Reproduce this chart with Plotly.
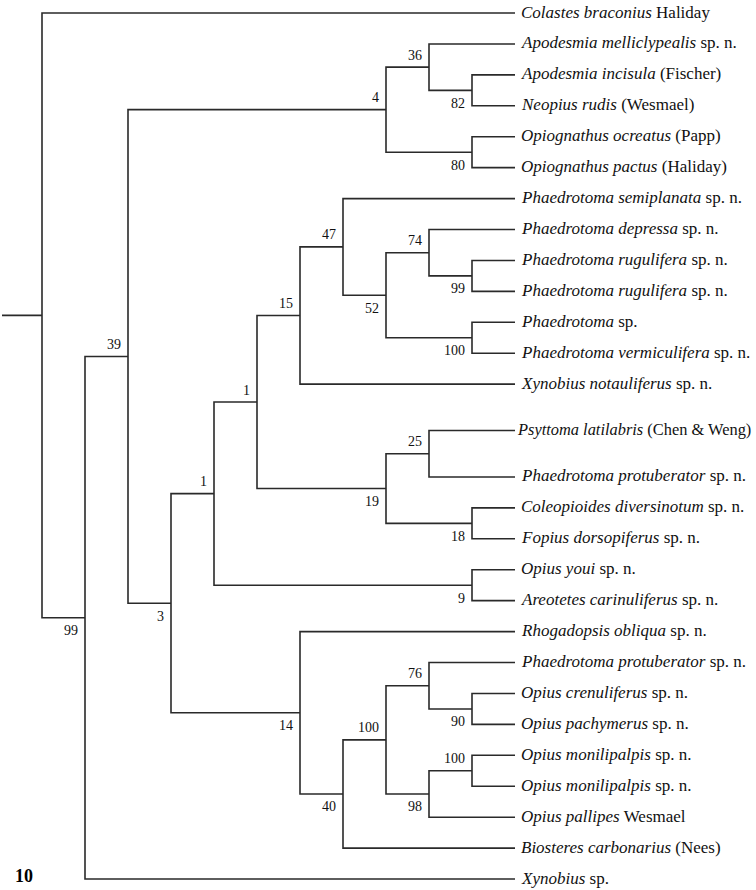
"""
Cladograma de Opiinae (fig. 10) - reconstrução com Plotly
"""
import plotly.graph_objects as go

# Terminais: parte em itálico (táxon) e parte em romano (autor / status)
taxon_names = [
    "Colastes braconius", "Apodesmia melliclypealis", "Apodesmia incisula",
    "Neopius rudis", "Opiognathus ocreatus", "Opiognathus pactus",
    "Phaedrotoma semiplanata", "Phaedrotoma depressa", "Phaedrotoma rugulifera",
    "Phaedrotoma rugulifera", "Phaedrotoma", "Phaedrotoma vermiculifera",
    "Xynobius notauliferus", "Psyttoma latilabris", "Phaedrotoma protuberator",
    "Coleopioides diversinotum", "Fopius dorsopiferus", "Opius youi",
    "Areotetes carinuliferus", "Rhogadopsis obliqua", "Phaedrotoma protuberator",
    "Opius crenuliferus", "Opius pachymerus", "Opius monilipalpis",
    "Opius monilipalpis", "Opius pallipes", "Biosteres carbonarius", "Xynobius",
]
taxon_authors = [
    "Haliday", "sp. n.", "(Fischer)", "(Wesmael)", "(Papp)", "(Haliday)",
    "sp. n.", "sp. n.", "sp. n.", "sp. n.", "sp.", "sp. n.",
    "sp. n.", "(Chen &amp; Weng)", "sp. n.", "sp. n.", "sp. n.", "sp. n.",
    "sp. n.", "sp. n.", "sp. n.", "sp. n.", "sp. n.", "sp. n.",
    "sp. n.", "Wesmael", "(Nees)", "sp.",
]
# linha (ordem vertical) de cada terminal
leaf_rows = [0, 1, 2, 3, 4, 5, 6, 7, 8, 9, 10, 11, 12, 13.5,
             15, 16, 17, 18, 19, 20, 21, 22, 23, 24, 25, 26, 27, 28]
tip_depth = 11

# Árvore: (suporte, profundidade, filhos); inteiros = índice do terminal
tree = ("", 0, [
    0,
    ("99", 1, [
        ("39", 2, [
            ("4", 8, [
                ("36", 9, [1, ("82", 10, [2, 3])]),
                ("80", 10, [4, 5]),
            ]),
            ("3", 3, [
                ("1", 4, [
                    ("1", 5, [
                        ("15", 6, [
                            ("47", 7, [
                                6,
                                ("52", 8, [
                                    ("74", 9, [7, ("99", 10, [8, 9])]),
                                    ("100", 10, [10, 11]),
                                ]),
                            ]),
                            12,
                        ]),
                        ("19", 8, [
                            ("25", 9, [13, 14]),
                            ("18", 10, [15, 16]),
                        ]),
                    ]),
                    ("9", 10, [17, 18]),
                ]),
                ("14", 6, [
                    19,
                    ("40", 7, [
                        ("100", 8, [
                            ("76", 9, [20, ("90", 10, [21, 22])]),
                            ("98", 9, [("100", 10, [23, 24]), 25]),
                        ]),
                        26,
                    ]),
                ]),
            ]),
        ]),
        27,
    ]),
])

LINE_COLOR = '#2a2a2a'
TEXT_COLOR = '#111111'
FONT = 'Liberation Serif, Times New Roman, serif'

line_x, line_y = [], []
support_labels = []


def layout_node(node):
    """Devolve (x, y) do nó e acumula segmentos e rótulos de suporte"""
    if isinstance(node, int):
        return tip_depth, leaf_rows[node]
    support, depth, children = node
    pos = [layout_node(c) for c in children]
    y_node = (pos[0][1] + pos[-1][1]) / 2
    # caminho contínuo: primeiro filho -> vertical -> último filho
    line_x.extend([pos[0][0], depth, depth, pos[-1][0], None])
    line_y.extend([pos[0][1], pos[0][1], pos[-1][1], pos[-1][1], None])
    for cx, cy in pos[1:-1]:
        line_x.extend([depth, cx, None])
        line_y.extend([cy, cy, None])
    # rótulos dos filhos internos: acima se for o de cima, abaixo se for o de baixo
    for i, c in enumerate(children):
        if isinstance(c, int) or not c[0]:
            continue
        above = (i == 0)
        support_labels.append((c[0], pos[i][0], pos[i][1], above))
    return depth, y_node


root_x, root_y = layout_node(tree)
# haste da raiz
line_x.extend([root_x - 0.93, root_x, None])
line_y.extend([root_y, root_y, None])

fig = go.Figure()
fig.add_trace(go.Scatter(
    x=line_x, y=line_y,
    mode='lines',
    line=dict(color=LINE_COLOR, width=1.6),
    hoverinfo='skip',
    showlegend=False
))

annotations = []
for name, author, row in zip(taxon_names, taxon_authors, leaf_rows):
    # rótulo mais longo fica um pouco mais compacto para caber na janela
    long_label = len(name) + len(author) > 32
    annotations.append(dict(
        x=tip_depth, y=row, xref='x', yref='y',
        text=f'<i>{name}</i> {author}',
        showarrow=False, xanchor='left', yanchor='middle',
        xshift=0 if long_label else 4, yshift=1,
        font=dict(family=FONT, size=16.4 if long_label else 17, color=TEXT_COLOR)
    ))

for text, x, y, above in support_labels:
    annotations.append(dict(
        x=x, y=y, xref='x', yref='y',
        text=text,
        showarrow=False, xanchor='right', yanchor='middle',
        xshift=-5, yshift=12 if above else -13,
        font=dict(family=FONT, size=14, color=TEXT_COLOR)
    ))

# número da figura
annotations.append(dict(
    x=13 / 756, y=1 - 876 / 890, xref='paper', yref='paper',
    text='<b>10</b>', showarrow=False, xanchor='left', yanchor='middle',
    font=dict(family=FONT, size=18, color='#000000')
))

fig.update_layout(
    width=756, height=890,
    margin=dict(l=0, r=0, t=0, b=0),
    paper_bgcolor='white', plot_bgcolor='white',
    xaxis=dict(range=[-42 / 43, (756 - 42) / 43], visible=False, fixedrange=True),
    yaxis=dict(range=[(890 - 13) / 30.93, -13 / 30.93], visible=False, fixedrange=True),
    annotations=annotations,
    showlegend=False
)

# sem margem do <body> para a figura ocupar a janela inteira
fig.write_html(
    "out.html",
    config={'displayModeBar': False},
    post_script="document.body.style.margin='0';document.body.style.overflow='hidden';"
)
